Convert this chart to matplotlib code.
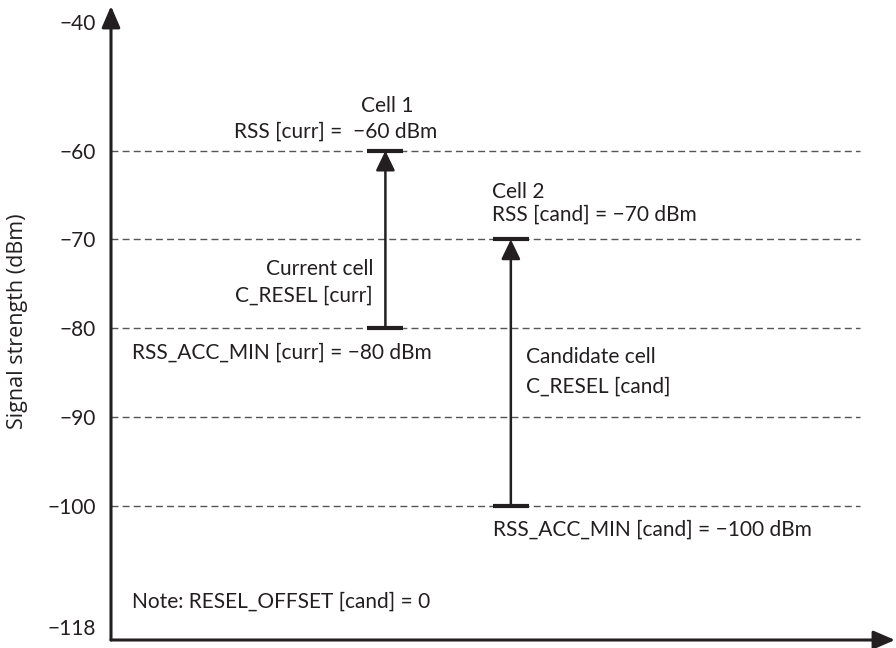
import numpy as np
import matplotlib
matplotlib.use("Agg")
import matplotlib.pyplot as plt

# ---- data -------------------------------------------------------------
levels = [-60, -70, -80, -90, -100]                 # dashed reference levels (dBm)
tick_values = [-40, -60, -70, -80, -90, -100, -118]
tick_labels = ["\u221240", "\u221260", "\u221270", "\u221280", "\u221290", "\u2212100", "\u2212118"]

cell_x = [35, 51]                                    # horizontal position of each cell
rss = [-60, -70]                                     # received signal strength (dBm)
rss_acc_min = [-80, -100]                            # minimum acceptable RSS (dBm)

TEXT = "#231f20"
FONT = "Lato"
FS = 15
PT = 0.72  # pixels -> points at 100 dpi

# ---- piecewise scale: the ranges outside -100..-60 are drawn compressed --
TOP_K, BOT_K = 0.725, 0.76


def forward(y):
    y = np.asarray(y, float)
    return np.where(y > -60, -60 + (y + 60) * TOP_K,
                    np.where(y < -100, -100 + (y + 100) * BOT_K, y))


def inverse(u):
    u = np.asarray(u, float)
    return np.where(u > -60, -60 + (u + 60) / TOP_K,
                    np.where(u < -100, -100 + (u + 100) / BOT_K, u))


fig = plt.figure(figsize=(8.96, 6.48), dpi=100)
ax = fig.add_axes([111 / 896, 8 / 648, 784 / 896, 634 / 648])
ax.set_yscale("function", functions=(forward, inverse))
ax.set_xlim(0, 100)
ax.set_ylim(-119.93, -37.5)

for s in ax.spines.values():
    s.set_visible(False)
ax.set_xticks([])
ax.set_yticks(tick_values)
ax.set_yticklabels(tick_labels, fontfamily=FONT, fontsize=FS, color=TEXT)
ax.tick_params(axis="y", length=0, pad=10.8)
ax.yaxis.set_minor_locator(matplotlib.ticker.NullLocator())
ax.set_ylabel("Signal strength (dBm)", fontfamily="Open Sans", fontsize=15.5, color=TEXT)
ax.yaxis.set_label_coords(-0.106, 0.503)

# axes drawn as arrows
axis_arrow = dict(arrowstyle="-|>,head_length=13,head_width=5.6", lw=2.2,
                  color=TEXT, shrinkA=0, shrinkB=0, mutation_scale=1)
ax.annotate("", xy=(0, 1), xytext=(0, 0), xycoords="axes fraction",
            arrowprops=axis_arrow, annotation_clip=False)
ax.annotate("", xy=(1, 0), xytext=(0, 0), xycoords="axes fraction",
            arrowprops=axis_arrow, annotation_clip=False)

# dashed reference levels
ax.hlines(levels, 0, 95.5, colors="#555555", lw=1.0, linestyles=(0, (5, 3)))

# cell bars and arrows
cap = 2.3
for x, top, bottom in zip(cell_x, rss, rss_acc_min):
    ax.hlines([top, bottom], x - cap, x + cap, colors=TEXT, lw=3.0)
    ax.annotate("", xy=(x, top), xytext=(x, bottom),
                arrowprops=dict(arrowstyle="-|>,head_length=12,head_width=5.8",
                                lw=1.8, color=TEXT, shrinkA=0, shrinkB=0,
                                mutation_scale=1))


def label(text, xy, dx_px, dy_px, ha):
    ax.annotate(text, xy=xy, xytext=(dx_px * PT, dy_px * PT), textcoords="offset points",
                ha=ha, va="center", fontfamily=FONT, fontsize=FS, color=TEXT)


# Cell 1 (current)
label("Cell 1", (cell_x[0], rss[0]), 1.6, 44.7, "center")
label("RSS [curr] =  \u221260 dBm", (cell_x[0], rss[0]), 51.6, 18.7, "right")
label("Current cell", (cell_x[0], rss_acc_min[0]), -12.4, 58.7, "right")
label("C_RESEL [curr]", (cell_x[0], rss_acc_min[0]), -12.4, 32.7, "right")
label("RSS_ACC_MIN [curr] = \u221280 dBm", (0, rss_acc_min[0]), 21, -24.3, "left")

# Cell 2 (candidate)
label("Cell 2", (cell_x[1], rss[1]), -18.8, 47, "left")
label("RSS [cand] = \u221270 dBm", (cell_x[1], rss[1]), -18.8, 25, "left")
label("Candidate cell", (cell_x[1], rss_acc_min[0]), 15.2, -29.3, "left")
label("C_RESEL [cand]", (cell_x[1], rss_acc_min[0]), 15.2, -58.3, "left")
label("RSS_ACC_MIN [cand] = \u2212100 dBm", (cell_x[1], rss_acc_min[1]), -17.8, -24.3, "left")

label("Note: RESEL_OFFSET [cand] = 0", (0, rss_acc_min[1]), 21, -96.3, "left")

fig.savefig("out.png", dpi=100)
